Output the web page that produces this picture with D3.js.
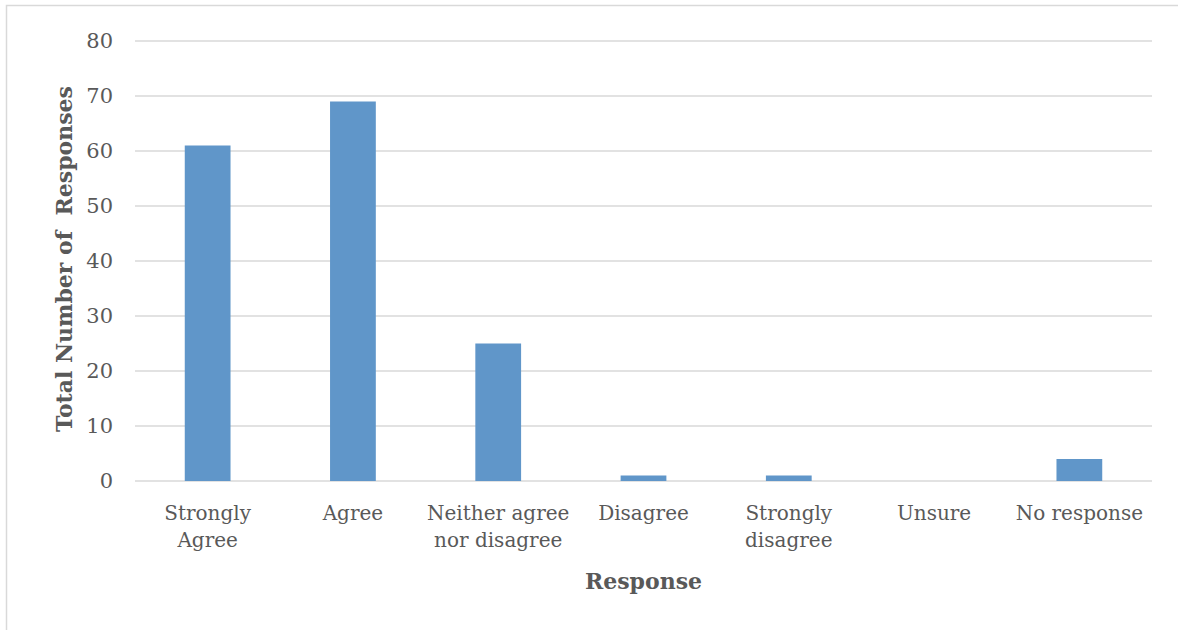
<!DOCTYPE html>
<html>
<head>
<meta charset="utf-8">
<script src="https://cdn.jsdelivr.net/npm/d3@7"></script>
<style>
  html, body { margin: 0; padding: 0; background: #fff; }
  svg { display: block; }
  text { font-family: "DejaVu Serif", "Liberation Serif", serif; fill: #595959; }
</style>
</head>
<body>
<svg id="chart" width="1178" height="630"></svg>
<script>
// Survey responses
const categories = [
  ["Strongly", "Agree"],
  ["Agree"],
  ["Neither agree", "nor disagree"],
  ["Disagree"],
  ["Strongly", "disagree"],
  ["Unsure"],
  ["No response"]
];
const responseCounts = [61, 69, 25, 1, 1, 0, 4];
const yTicks = [0, 10, 20, 30, 40, 50, 60, 70, 80];

const svg = d3.select("#chart");
const plot = { left: 135, right: 1152, top: 41, bottom: 481 };

// chart frame
svg.append("rect")
  .attr("x", 6.5).attr("y", 5.5)
  .attr("width", 1200).attr("height", 700)
  .attr("fill", "none").attr("stroke", "#d9d9d9").attr("stroke-width", 1.5);

const labels = categories.map(d => d.join(" "));
const x = d3.scaleBand().domain(labels).range([plot.left, plot.right]).paddingInner(0.685).paddingOuter(0.3425);
const y = d3.scaleLinear().domain([0, 80]).range([plot.bottom, plot.top]);

// gridlines
svg.append("g")
  .selectAll("line")
  .data(yTicks)
  .join("line")
  .attr("x1", plot.left).attr("x2", plot.right)
  .attr("y1", d => y(d)).attr("y2", d => y(d))
  .attr("stroke", "#d9d9d9").attr("stroke-width", 1.5);

// y tick labels
const yAxis = d3.axisLeft(y).tickValues(yTicks).tickSize(0).tickPadding(0);
const yg = svg.append("g").attr("transform", `translate(${113},0)`).call(yAxis);
yg.select(".domain").remove();
yg.selectAll("text").attr("font-size", 21).attr("fill", "#595959")
  .style("font-family", '"DejaVu Serif", serif');

// bars
svg.append("g")
  .selectAll("rect")
  .data(responseCounts)
  .join("rect")
  .attr("x", (d, i) => x(labels[i]))
  .attr("width", x.bandwidth())
  .attr("y", d => y(d))
  .attr("height", d => y(0) - y(d))
  .attr("fill", "#6096c9");

// category labels
const xg = svg.append("g");
categories.forEach((lines, i) => {
  const cx = x(labels[i]) + x.bandwidth() / 2;
  const t = xg.append("text")
    .attr("x", cx)
    .attr("y", 520)
    .attr("text-anchor", "middle")
    .attr("font-size", 20);
  lines.forEach((ln, j) => {
    t.append("tspan").attr("x", cx).attr("dy", j === 0 ? 0 : 27).text(ln);
  });
});

// axis titles
svg.append("text")
  .attr("x", (plot.left + plot.right) / 2).attr("y", 589)
  .attr("text-anchor", "middle")
  .attr("font-size", 22).attr("font-weight", "bold")
  .text("Response");

svg.append("text")
  .attr("transform", `translate(72,${259}) rotate(-90)`)
  .attr("text-anchor", "middle")
  .attr("font-size", 22).attr("font-weight", "bold")
  .style("white-space", "pre")
  .text("Total Number of  Responses");
</script>
</body>
</html>
